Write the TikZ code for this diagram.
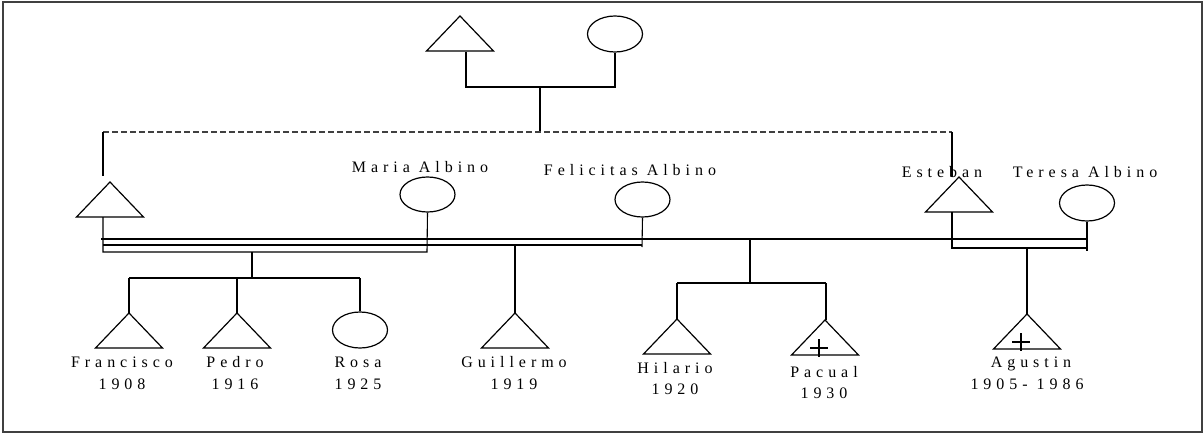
\documentclass[tikz,border=0pt]{standalone}
\usepackage{fontspec}
\usetikzlibrary{shapes.geometric}
\newfontfamily\lsp{Liberation Serif}[LetterSpace=31]
\newcommand\mtri[3]{%
  \coordinate (#1) at (#2,#3);
  \draw[shapeline] (#2-33.5,#3+35) -- (#2,#3) -- (#2+33.5,#3+35) -- cycle;}
\begin{document}
\begin{tikzpicture}[x=1pt,y=-1pt,
  shapeline/.style={line width=1.2pt},
  conn/.style={line width=1.1pt},
  dashconn/.style={line width=1.1pt, black!75, dash pattern=on 6pt off 3pt},
  fem/.style={draw, ellipse, line width=1.2pt, minimum width=55pt, minimum height=36pt, inner sep=0pt},
  lbl/.style={font=\lsp\fontsize{16}{20}\selectfont, anchor=base, inner sep=0pt}]
\useasboundingbox (0,0) rectangle (1204,433);
\draw[black!75, line width=1.6pt] (3,2) rectangle (1202,432);

% grandparents
\mtri{gf}{460}{16}
\node[fem] (gm) at (615,34) {};
\coordinate (gfb) at (466,52);
\coordinate (gfj) at (466,87);
\coordinate (gmj) at (615,87);
\coordinate (gpm) at (540,87);
\coordinate (gpd) at (540,132);
\draw[conn] (gfb) -- (gfj) -- (gmj) -- (gm.south);
\draw[conn] (gpm) -- (gpd);

% dashed sibling line
\coordinate (dl) at (103,132);
\coordinate (dr) at (952,132);
\draw[dashconn] (dl) -- (dr);

% generation 2
\mtri{lm}{110}{182}
\coordinate (lmt) at (103,176);
\coordinate (lmb) at (103,217);
\draw[conn] (dl) -- (lmt);

\node[fem, minimum height=35pt] (maria) at (427.5,194.5) {};
\node[lbl] (mariat) at (420,172) {Maria Albino};

\node[fem, minimum height=35pt] (feli) at (642.5,199.5) {};
\node[lbl] (felit) at (630,175) {Felicitas Albino};

\mtri{est}{959}{177}
\coordinate (estt) at (952,177);
\coordinate (estb) at (952,212);
\draw[conn] (dr) -- (estt);
\node[lbl] (estbt) at (942,177) {Esteban};

\node[fem] (teresa) at (1087,203) {};
\node[lbl] (teresat) at (1085,177) {Teresa Albino};

% marriage lines
\coordinate (m1a) at (101,239);
\coordinate (m1b) at (1087,239);
\coordinate (m2a) at (103,245);
\coordinate (m2b) at (642,245);
\draw[conn] (m1a) -- (m1b);
\draw[conn] (m2a) -- (m2b);
\coordinate (bxl) at (103,252);
\coordinate (bxr) at (427,252);
\draw[conn] (lmb) -- (bxl) -- (bxr) -- (maria.south);
\coordinate (fel) at (642,247);
\draw[conn] (feli.south) -- (fel);

% children of first union
\coordinate (c1t) at (252,252);
\coordinate (c1m) at (252,278);
\coordinate (c1l) at (129,278);
\coordinate (c1r) at (360,278);
\coordinate (c1p) at (237,278);
\draw[conn] (c1t) -- (c1m);
\draw[conn] (c1l) -- (c1r);
\mtri{fra}{129}{313}
\mtri{ped}{237}{313}
\node[fem] (rosa) at (360,330) {};
\draw[conn] (c1l) -- (fra);
\draw[conn] (c1p) -- (ped);
\draw[conn] (c1r) -- (rosa.north);
\node[lbl] (frat) at (122,367) {Francisco};
\node[lbl] (fray) at (122,389) {1908};
\node[lbl] (pedt) at (235,367) {Pedro};
\node[lbl] (pedy) at (235,389) {1916};
\node[lbl] (rosat) at (358,367) {Rosa};
\node[lbl] (rosay) at (358,389) {1925};

% Guillermo
\coordinate (gut) at (515,245);
\mtri{gui}{515}{313}
\draw[conn] (gut) -- (gui);
\node[lbl] (guit) at (514,367) {Guillermo};
\node[lbl] (guiy) at (514,389) {1919};

% Hilario & Pacual
\coordinate (c3t) at (750,239);
\coordinate (c3m) at (750,283);
\coordinate (c3l) at (677,283);
\coordinate (c3r) at (826,283);
\draw[conn] (c3t) -- (c3m);
\draw[conn] (c3l) -- (c3r);
\mtri{hil}{677}{319}
\mtri{pac}{825}{320}
\coordinate (pact) at (826,320);
\draw[conn] (c3l) -- (hil);
\draw[conn] (c3r) -- (pact);
\draw[conn] (810,348) -- (828,348) (819,339) -- (819,357);
\node[lbl] (hilt) at (675,373) {Hilario};
\node[lbl] (hily) at (675,394) {1920};
\node[lbl] (pact2) at (824,377) {Pacual};
\node[lbl] (pacy) at (824,398) {1930};

% Esteban & Teresa
\coordinate (etl) at (952,248);
\coordinate (etr) at (1087,248);
\coordinate (ter) at (1087,251);
\draw[conn] (estb) -- (etl) -- (etr);
\draw[conn] (teresa.south) -- (ter);
\coordinate (agt) at (1027,248);
\mtri{agu}{1027}{314}
\draw[conn] (agt) -- (agu);
\draw[conn] (1012,342) -- (1030,342) (1021,333) -- (1021,351);
\node[lbl] (agut) at (1031,367) {Agustin};
\node[lbl] (aguy) at (1027,389) {1905- 1986};
\end{tikzpicture}
\end{document}
